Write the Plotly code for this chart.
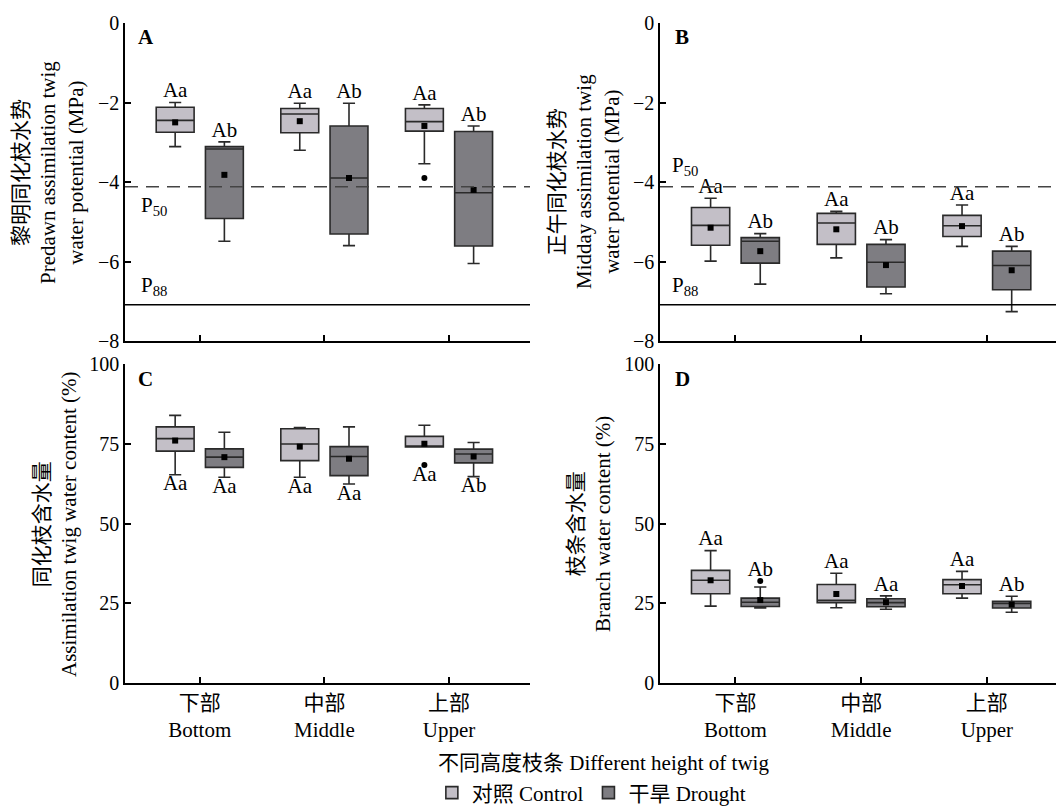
import plotly.graph_objects as go

# ---------------- data ----------------
categories = ["Bottom", "Middle", "Upper"]
tick_labels = ["下部<br>Bottom", "中部<br>Middle", "上部<br>Upper"]

# Panel A: predawn assimilation twig water potential (MPa)
A_ctrl_low = [-3.11, -3.20, -3.54]
A_ctrl_q1 = [-2.75, -2.76, -2.72]
A_ctrl_med = [-2.45, -2.29, -2.48]
A_ctrl_q3 = [-2.12, -2.15, -2.15]
A_ctrl_high = [-2.00, -2.02, -2.06]
A_ctrl_mean = [-2.50, -2.47, -2.59]
A_ctrl_out = [None, None, -3.90]
A_dro_low = [-5.49, -5.60, -6.05]
A_dro_q1 = [-4.92, -5.31, -5.61]
A_dro_med = [-3.17, -3.90, -4.27]
A_dro_q3 = [-3.11, -2.59, -2.73]
A_dro_high = [-2.99, -2.02, -2.59]
A_dro_mean = [-3.82, -3.90, -4.20]
A_dro_out = [None, None, None]
A_ctrl_letters = ["Aa", "Aa", "Aa"]
A_dro_letters = ["Ab", "Ab", "Ab"]

# Panel B: midday assimilation twig water potential (MPa)
B_ctrl_low = [-5.99, -5.91, -5.62]
B_ctrl_q1 = [-5.59, -5.57, -5.37]
B_ctrl_med = [-5.09, -5.03, -5.10]
B_ctrl_q3 = [-4.64, -4.79, -4.84]
B_ctrl_high = [-4.41, -4.74, -4.58]
B_ctrl_mean = [-5.15, -5.19, -5.11]
B_ctrl_out = [None, None, None]
B_dro_low = [-6.57, -6.81, -7.26]
B_dro_q1 = [-6.04, -6.64, -6.71]
B_dro_med = [-5.49, -6.02, -6.10]
B_dro_q3 = [-5.40, -5.57, -5.74]
B_dro_high = [-5.30, -5.45, -5.62]
B_dro_mean = [-5.74, -6.09, -6.22]
B_dro_out = [None, None, None]
B_ctrl_letters = ["Aa", "Aa", "Aa"]
B_dro_letters = ["Ab", "Ab", "Ab"]

# Panel C: assimilation twig water content (%)
C_ctrl_low = [65.3, 64.5, 74.0]
C_ctrl_q1 = [72.7, 69.7, 74.0]
C_ctrl_med = [76.6, 74.9, 74.1]
C_ctrl_q3 = [80.3, 79.7, 77.3]
C_ctrl_high = [83.9, 80.1, 80.8]
C_ctrl_mean = [76.0, 74.1, 75.0]
C_ctrl_out = [None, None, 68.3]
C_dro_low = [64.5, 62.4, 64.7]
C_dro_q1 = [67.6, 65.0, 69.0]
C_dro_med = [70.8, 71.0, 71.8]
C_dro_q3 = [73.4, 74.1, 73.3]
C_dro_high = [78.6, 80.3, 75.4]
C_dro_mean = [70.8, 70.3, 71.0]
C_dro_out = [None, None, None]
C_ctrl_letters = ["Aa", "Aa", "Aa"]
C_dro_letters = ["Aa", "Aa", "Ab"]

# Panel D: branch water content (%)
D_ctrl_low = [24.1, 23.6, 26.6]
D_ctrl_q1 = [28.0, 25.2, 28.0]
D_ctrl_med = [32.2, 25.9, 30.8]
D_ctrl_q3 = [35.3, 30.9, 32.4]
D_ctrl_high = [41.5, 34.4, 35.0]
D_ctrl_mean = [32.2, 27.9, 30.4]
D_ctrl_out = [None, None, None]
D_dro_low = [23.5, 23.1, 22.2]
D_dro_q1 = [24.0, 23.9, 23.5]
D_dro_med = [25.3, 25.2, 24.9]
D_dro_q3 = [26.6, 26.4, 25.6]
D_dro_high = [30.1, 27.3, 27.2]
D_dro_mean = [26.0, 25.3, 24.6]
D_dro_out = [32.0, None, None]
D_ctrl_letters = ["Aa", "Aa", "Aa"]
D_dro_letters = ["Ab", "Aa", "Ab"]

P50 = -4.12
P88 = -7.09

series_names = ["对照 Control", "干旱 Drought"]

# ---------------- style ----------------
FONT = "Liberation Serif, Noto Sans CJK SC, serif"
FS = 21
TFS = 20
CTRL_FILL = "#c3bfc7"
DRO_FILL = "#7e7d82"
EDGE = "#2a2a2a"

W, H = 1056, 809


def px_x(p):
    return p / W


def px_y(p):
    return 1 - p / H


panels = [
    dict(ax="", ctrl=(A_ctrl_low, A_ctrl_q1, A_ctrl_med, A_ctrl_q3, A_ctrl_high, A_ctrl_mean, A_ctrl_out, A_ctrl_letters),
         dro=(A_dro_low, A_dro_q1, A_dro_med, A_dro_q3, A_dro_high, A_dro_mean, A_dro_out, A_dro_letters), letter_pos="top"),
    dict(ax="2", ctrl=(B_ctrl_low, B_ctrl_q1, B_ctrl_med, B_ctrl_q3, B_ctrl_high, B_ctrl_mean, B_ctrl_out, B_ctrl_letters),
         dro=(B_dro_low, B_dro_q1, B_dro_med, B_dro_q3, B_dro_high, B_dro_mean, B_dro_out, B_dro_letters), letter_pos="top"),
    dict(ax="3", ctrl=(C_ctrl_low, C_ctrl_q1, C_ctrl_med, C_ctrl_q3, C_ctrl_high, C_ctrl_mean, C_ctrl_out, C_ctrl_letters),
         dro=(C_dro_low, C_dro_q1, C_dro_med, C_dro_q3, C_dro_high, C_dro_mean, C_dro_out, C_dro_letters), letter_pos="bottom"),
    dict(ax="4", ctrl=(D_ctrl_low, D_ctrl_q1, D_ctrl_med, D_ctrl_q3, D_ctrl_high, D_ctrl_mean, D_ctrl_out, D_ctrl_letters),
         dro=(D_dro_low, D_dro_q1, D_dro_med, D_dro_q3, D_dro_high, D_dro_mean, D_dro_out, D_dro_letters), letter_pos="top"),
]

fig = go.Figure()

for pi, p in enumerate(panels):
    xa = "x" + p["ax"]
    ya = "y" + p["ax"]
    for si, (sname, stats, fill, grp) in enumerate([
        (series_names[0], p["ctrl"], CTRL_FILL, "ctrl"),
        (series_names[1], p["dro"], DRO_FILL, "dro"),
    ]):
        low, q1, med, q3, high, mean, out, letters = stats
        fig.add_trace(go.Box(
            x=categories, q1=q1, median=med, q3=q3, lowerfence=low, upperfence=high,
            name=sname, legendgroup=grp, showlegend=(pi == 0), offsetgroup=grp,
            fillcolor=fill, line=dict(color=EDGE, width=1.6), whiskerwidth=0.32,
            boxpoints=False, xaxis=xa, yaxis=ya, hoverinfo="skip",
        ))
        # mean markers
        fig.add_trace(go.Scatter(
            x=categories, y=mean, mode="markers", offsetgroup=grp,
            marker=dict(symbol="square", size=6, color="black"),
            showlegend=False, xaxis=xa, yaxis=ya, hoverinfo="skip",
        ))
        # outliers
        fig.add_trace(go.Scatter(
            x=categories, y=out, mode="markers", offsetgroup=grp,
            marker=dict(symbol="circle", size=6, color="black"),
            showlegend=False, xaxis=xa, yaxis=ya, hoverinfo="skip",
        ))
        # significance letters
        if p["letter_pos"] == "top":
            ly = [max(h, o) if o is not None else h for h, o in zip(high, out)]
            tpos = "top center"
        else:
            ly = [min(l, o) if o is not None else l for l, o in zip(low, out)]
            tpos = "bottom center"
        fig.add_trace(go.Scatter(
            x=categories, y=ly, mode="text", text=letters, textposition=tpos,
            offsetgroup=grp, textfont=dict(family=FONT, size=FS, color="black"),
            showlegend=False, xaxis=xa, yaxis=ya, hoverinfo="skip",
        ))

# threshold lines in A and B
for ax in ["", "2"]:
    fig.add_shape(type="line", xref=f"x{ax} domain", x0=0, x1=1, yref=f"y{ax}", y0=P50, y1=P50,
                  line=dict(color="#444444", width=1.5, dash="13px,8px"))
    fig.add_shape(type="line", xref=f"x{ax} domain", x0=0, x1=1, yref=f"y{ax}", y0=P88, y1=P88,
                  line=dict(color="black", width=1.5))

axis_common_x = dict(
    type="category", categoryorder="array", categoryarray=categories,
    showline=True, linecolor="black", linewidth=1.5, ticks="inside", ticklen=6,
    tickcolor="black", tickwidth=1.5, showgrid=False, zeroline=False,
    tickvals=categories, ticktext=tick_labels,
    tickfont=dict(family=FONT, size=FS, color="black"),
)
axis_common_y = dict(
    showline=True, linecolor="black", linewidth=1.5, ticks="inside", ticklen=6,
    tickcolor="black", tickwidth=1.5, showgrid=False, zeroline=False,
    tickfont=dict(family=FONT, size=TFS, color="black"),
)

left_dom = [px_x(125), px_x(530)]
right_dom = [px_x(660), 1.0]
top_dom = [px_y(341), px_y(23)]
bot_dom = [px_y(683), px_y(364)]

fig.update_layout(
    width=W, height=H,
    margin=dict(l=0, r=0, t=0, b=0, autoexpand=False),
    paper_bgcolor="white", plot_bgcolor="white",
    font=dict(family=FONT, size=FS, color="black"),
    boxmode="group", boxgap=0.21, boxgroupgap=0.23,
    scattermode="group", scattergap=0.21,
    xaxis=dict(axis_common_x, domain=left_dom, anchor="y", range=[-0.6, 2.65], showticklabels=False),
    yaxis=dict(axis_common_y, domain=top_dom, anchor="x", range=[-8, 0], dtick=2),
    xaxis2=dict(axis_common_x, domain=right_dom, anchor="y2", range=[-0.6, 2.55], showticklabels=False),
    yaxis2=dict(axis_common_y, domain=top_dom, anchor="x2", range=[-8, 0], dtick=2),
    xaxis3=dict(axis_common_x, domain=left_dom, anchor="y3", range=[-0.6, 2.65]),
    yaxis3=dict(axis_common_y, domain=bot_dom, anchor="x3", range=[0, 100], dtick=25),
    xaxis4=dict(axis_common_x, domain=right_dom, anchor="y4", range=[-0.6, 2.55]),
    yaxis4=dict(axis_common_y, domain=bot_dom, anchor="x4", range=[0, 100], dtick=25),
    legend=dict(orientation="h", x=0.56, xanchor="center", y=px_y(793), yanchor="middle",
                font=dict(family=FONT, size=FS), bgcolor="rgba(0,0,0,0)", itemwidth=30,
                tracegroupgap=0),
    showlegend=True,
)

ann = []
# panel letters
for lab, x, y in [("A", 136, 37), ("B", 673, 37), ("C", 136, 379), ("D", 673, 379)]:
    ann.append(dict(text=f"<b>{lab}</b>", x=px_x(x), y=px_y(y), xref="paper", yref="paper",
                    xanchor="left", yanchor="middle", showarrow=False,
                    font=dict(family=FONT, size=FS, color="black")))
# P50 / P88 labels
ann.append(dict(text="P<sub>50</sub>", xref="x domain", x=0.035, yref="y", y=P50, yshift=-4,
                xanchor="left", yanchor="top", showarrow=False, font=dict(family=FONT, size=FS)))
ann.append(dict(text="P<sub>88</sub>", xref="x domain", x=0.035, yref="y", y=P88, yshift=4,
                xanchor="left", yanchor="bottom", showarrow=False, font=dict(family=FONT, size=FS)))
ann.append(dict(text="P<sub>50</sub>", xref="x2 domain", x=0.025, yref="y2", y=P50, yshift=6,
                xanchor="left", yanchor="bottom", showarrow=False, font=dict(family=FONT, size=FS)))
ann.append(dict(text="P<sub>88</sub>", xref="x2 domain", x=0.025, yref="y2", y=P88, yshift=4,
                xanchor="left", yanchor="bottom", showarrow=False, font=dict(family=FONT, size=FS)))
# y-axis titles
for txt, x, y in [
    ("黎明同化枝水势<br>Predawn assimilation twig<br>water potential (MPa)", 48, 173),
    ("正午同化枝水势<br>Midday assimilation twig<br>water potential (MPa)", 585, 182),
    ("同化枝含水量<br>Assimilation twig water content (%)", 55, 524),
    ("枝条含水量<br>Branch water content (%)", 589, 524),
]:
    ann.append(dict(text=txt, x=px_x(x), y=px_y(y), xref="paper", yref="paper", textangle=-90,
                    xanchor="center", yanchor="middle", showarrow=False,
                    font=dict(family=FONT, size=FS, color="black")))
# common x title
ann.append(dict(text="不同高度枝条 Different height of twig", x=px_x(603), y=px_y(763),
                xref="paper", yref="paper", xanchor="center", yanchor="middle", showarrow=False,
                font=dict(family=FONT, size=FS, color="black")))
fig.update_layout(annotations=ann)

fig.write_html("out.html")
